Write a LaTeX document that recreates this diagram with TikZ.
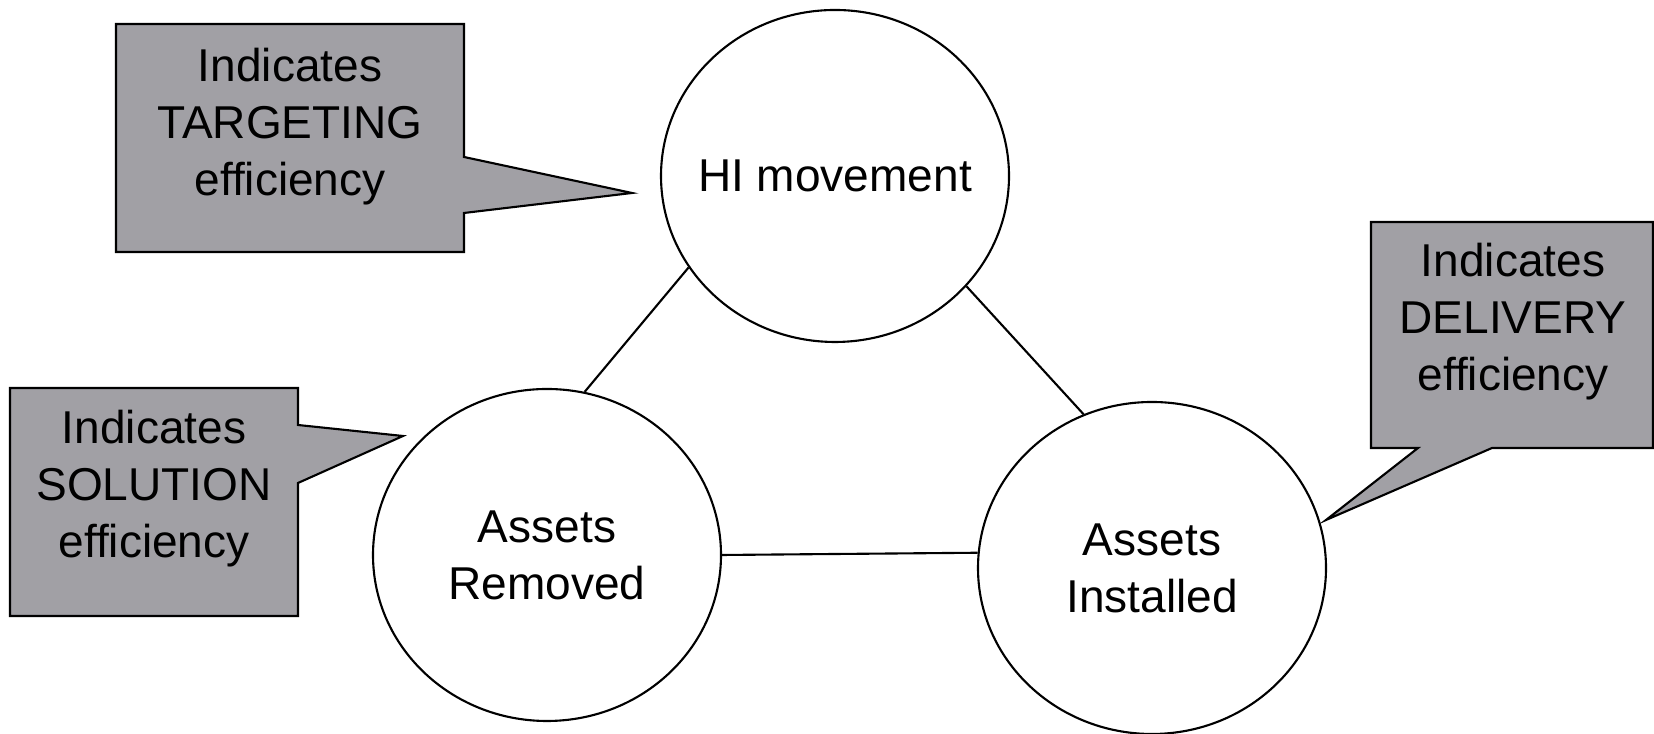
\documentclass[tikz,border=0pt]{standalone}
\usepackage{fontspec}
\setmainfont{Liberation Sans}
\usetikzlibrary{shapes.geometric}
\definecolor{bubblegrey}{RGB}{161,160,165}
\newcommand{\bodyfont}{\fontsize{13.1}{16.2}\selectfont}
\tikzset{
  stage/.style={draw,ellipse,line width=0.6pt,minimum width=3.48cm,minimum height=3.32cm,inner sep=0pt,align=center,font=\bodyfont},
  bubble/.style={draw,fill=bubblegrey,line width=0.6pt,line join=miter},
  note/.style={align=center,font=\bodyfont,inner sep=0pt},
  link/.style={line width=0.6pt}
}

\begin{document}
\begin{tikzpicture}
\useasboundingbox (0,0) rectangle (16.54,7.34);
\draw[bubble] (1.16,7.10) -| (4.64,5.77) -- (6.32,5.41) -- (4.64,5.21) |- (1.16,4.82) -- cycle;
\draw[bubble] (0.10,3.46) -| (2.98,3.09) -- (4.03,2.98) -- (2.98,2.51) |- (0.10,1.18) -- cycle;
\draw[bubble] (13.71,5.12) -| (16.53,2.86) -- (14.92,2.86) -- (13.26,2.14) -- (14.18,2.86) -- (13.71,2.86) -- cycle;
\node[note] (tgt) at (2.90,6.07) {Indicates\\TARGETING\\efficiency};
\node[note] (sol) at (1.54,2.45) {Indicates\\SOLUTION\\efficiency};
\node[note] (dlv) at (15.13,4.12) {Indicates\\DELIVERY\\efficiency};
\node[stage,inner xsep=-0.2cm] (hi) at (8.35,5.58) {HI movement};
\node[stage] (removed) at (5.47,1.79) {Assets\\Removed};
\node[stage] (installed) at (11.52,1.66) {Assets\\Installed};
\draw[link] (hi.212) -- (removed.77);
\draw[link] (hi.320) -- (installed.114);
\draw[link] (removed.east) -- (installed.175);
\end{tikzpicture}
\end{document}
